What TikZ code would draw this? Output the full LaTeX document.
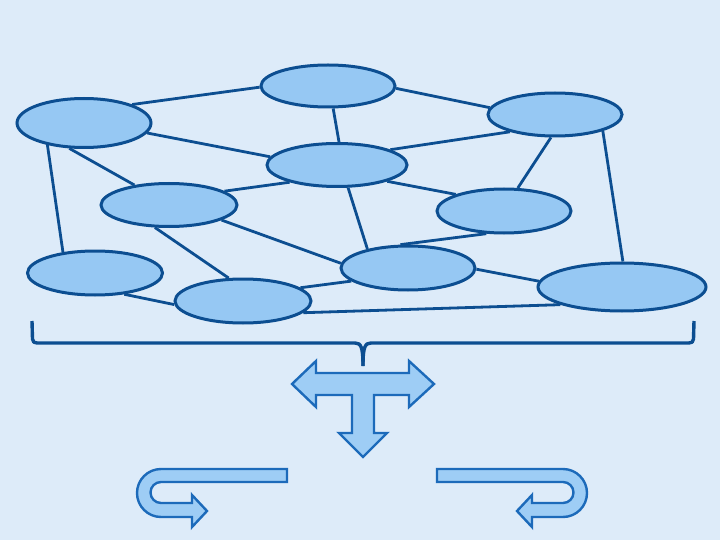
\documentclass[tikz,border=0pt]{standalone}
\usetikzlibrary{shapes.geometric}
\definecolor{bgc}{RGB}{221,235,249}
\definecolor{ellfill}{RGB}{150,200,243}
\definecolor{ellline}{RGB}{12,78,145}
\definecolor{arrline}{RGB}{28,106,186}
\definecolor{arrfill}{RGB}{158,205,245}
\tikzset{
  ell/.style={ellipse, draw=ellline, fill=ellfill, line width=3pt, inner sep=0pt},
  edge/.style={draw=ellline, line width=2.8pt},
  brace/.style={draw=ellline, line width=3.4pt, line join=round},
  bigarrow/.style={draw=arrline, fill=arrfill, line width=2.4pt, line join=miter}
}
\begin{document}
\begin{tikzpicture}[x=1pt,y=-1pt]
\fill[bgc] (0,0) rectangle (720,540);
\useasboundingbox (0,0) rectangle (720,540);

% nodes
\node[ell, minimum width=134pt, minimum height=42pt] (n1) at (328,86) {};
\node[ell, minimum width=134pt, minimum height=49pt] (n2) at (84,123) {};
\node[ell, minimum width=134pt, minimum height=43pt] (n3) at (555,114.5) {};
\node[ell, minimum width=140pt, minimum height=43pt] (n4) at (337,165) {};
\node[ell, minimum width=136pt, minimum height=43pt] (n5) at (169,205) {};
\node[ell, minimum width=134pt, minimum height=44pt] (n6) at (504,211) {};
\node[ell, minimum width=135pt, minimum height=44pt] (n7) at (95,273) {};
\node[ell, minimum width=136pt, minimum height=44pt] (n8) at (243,301) {};
\node[ell, minimum width=134pt, minimum height=44pt] (n9) at (408,268) {};
\node[ell, minimum width=168pt, minimum height=48pt] (n10) at (622,287) {};

% connectors
\draw[edge] (n2.21) -- (n1.181);
\draw[edge] (n1.-77) -- (n4.85);
\draw[edge] (n1.-2) -- (n3.174);
\draw[edge] (n2.-9) -- (n4.173);
\draw[edge] (n2.-120) -- (n5.150);
\draw[edge] (n2.-149) -- (n7.147);
\draw[edge] (n4.16) -- (n3.-159);
\draw[edge] (n5.14) -- (n4.-160);
\draw[edge] (n4.-18) -- (n6.161);
\draw[edge] (n4.-64) -- (n9.155);
\draw[edge] (n3.-100) -- (n6.59);
\draw[edge] (n3.-19) -- (n10.88);
\draw[edge] (n5.-122) -- (n8.122);
\draw[edge] (n5.-16) -- (n9.176);
\draw[edge] (n6.-128) -- (n9.108);
\draw[edge] (n9.-1) -- (n10.176);
\draw[edge] (n7.-36) -- (n8.-177);
\draw[edge] (n8.13) -- (n9.-167);
\draw[edge] (n8.-11) -- (n10.-164);

% brace
\draw[brace] (32,321) -- (32.5,339) .. controls (33,342) and (34,343) .. (37,343)
  -- (355,343) .. controls (361,343) and (363,347) .. (363,366);
\draw[brace] (694,321) -- (693.5,339) .. controls (693,342) and (692,343) .. (689,343)
  -- (371,343) .. controls (365,343) and (363,347) .. (363,366);

% T-shaped three-way arrow
\draw[bigarrow] (292,384) -- (316,361) -- (316,373) -- (409,373) -- (409,361)
  -- (434,384) -- (409,407) -- (409,395) -- (374,395) -- (374,433) -- (387,433)
  -- (363,457) -- (339,433) -- (352,433) -- (352,395) -- (316,395) -- (316,407) -- cycle;

% left U-turn arrow
\draw[bigarrow] (287,469) -- (161,469) .. controls (147.75,469) and (137,479.75) .. (137,493)
  .. controls (137,506.25) and (147.75,517) .. (161,517) -- (192,517) -- (192,527)
  -- (207,511) -- (192,495) -- (192,503) -- (161,503)
  .. controls (155.2,503) and (150.5,498.3) .. (150.5,492.5)
  .. controls (150.5,486.7) and (155.2,482) .. (161,482) -- (287,482) -- cycle;

% right U-turn arrow
\draw[bigarrow] (437,469) -- (563,469) .. controls (576.25,469) and (587,479.75) .. (587,493)
  .. controls (587,506.25) and (576.25,517) .. (563,517) -- (532,517) -- (532,527)
  -- (517,511) -- (532,495) -- (532,503) -- (563,503)
  .. controls (568.8,503) and (573.5,498.3) .. (573.5,492.5)
  .. controls (573.5,486.7) and (568.8,482) .. (563,482) -- (437,482) -- cycle;
\end{tikzpicture}
\end{document}
